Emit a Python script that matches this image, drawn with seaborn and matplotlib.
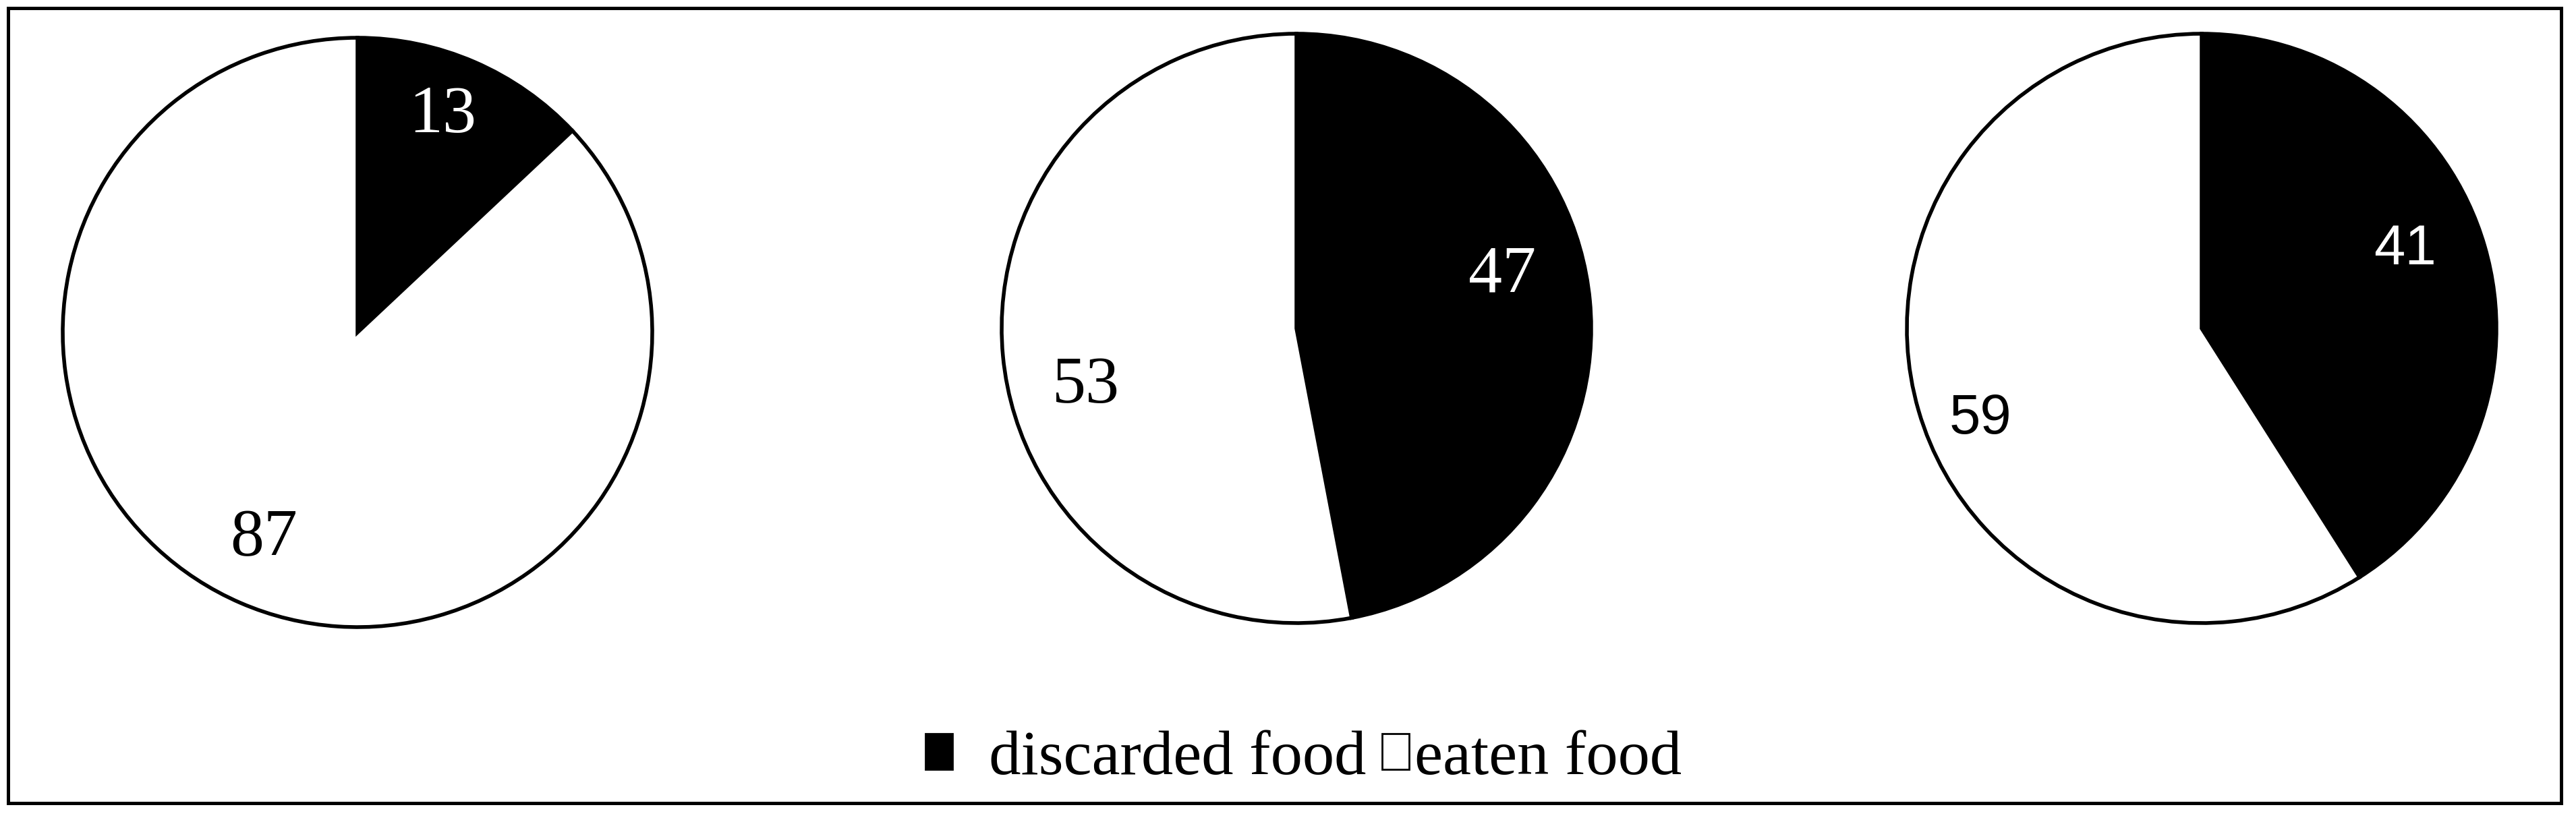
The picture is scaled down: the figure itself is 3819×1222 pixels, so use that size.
import numpy as np
import matplotlib
matplotlib.use("Agg")
import matplotlib.pyplot as plt
import seaborn as sns
from matplotlib.patches import Patch, Rectangle

# ---- data ----
categories = ["discarded food", "eaten food"]
discarded = [13, 47, 41]
eaten = [87, 53, 59]

sns.set_theme(style="white")
plt.rcParams['font.family'] = ['Liberation Serif', 'DejaVu Sans']
plt.rcParams['text.color'] = 'black'

W, H = 3819, 1222
fig = plt.figure(figsize=(W / 100, H / 100), dpi=100)
fig.patch.set_facecolor("white")

# layout (pixels): centres, radius
centers = [(530, 493), (1922, 487), (3264, 487)]
radius_px = 437
pad = 1.05
label_fonts = ['Liberation Serif', 'Liberation Serif', 'Liberation Sans']
label_sizes = [72, 72, 60]
angle_offsets = [[-2, 1], [-9, -10], [-5, -6]]   # degrees, clockwise positive
label_radii = [[0.79, 0.77], [0.72, 0.74], [0.74, 0.81]]
colors = ["black", "white"]
text_colors = ["white", "black"]

for i, (cx, cy) in enumerate(centers):
    side = 2 * pad * radius_px
    ax = fig.add_axes([(cx - side / 2) / W, (H - cy - side / 2) / H, side / W, side / H])
    vals = [discarded[i], eaten[i]]
    wedges, _ = ax.pie(vals, colors=colors, startangle=90, counterclock=False,
                       wedgeprops=dict(edgecolor="black", linewidth=4.0))
    ax.set_xlim(-pad, pad)
    ax.set_ylim(-pad, pad)
    ax.set_aspect("equal")
    ax.axis("off")
    for j, w in enumerate(wedges):
        mid = 0.5 * (w.theta1 + w.theta2) - angle_offsets[i][j]
        r = label_radii[i][j]
        x = r * np.cos(np.deg2rad(mid))
        y = r * np.sin(np.deg2rad(mid))
        ax.text(x, y, f"{vals[j]}", ha="center", va="center",
                color=text_colors[j], fontsize=label_sizes[i],
                family=[label_fonts[i], 'DejaVu Sans'])

handles = [Patch(facecolor=c, edgecolor="black", linewidth=2) for c in colors]
labels = ["  " + categories[0], categories[1]]
leg = fig.legend(handles, labels, ncol=2, loc="center", bbox_to_anchor=(0.506, 0.079),
                 frameon=False, handlelength=0.42, handleheight=0.5,
                 handletextpad=0.08, columnspacing=0.25,
                 prop=dict(family=['Liberation Serif', 'DejaVu Sans'], size=68))
for t in leg.get_texts():
    t.set_color("black")

x0, x1 = 12 / W, 3797 / W
y0, y1 = (H - 1191) / H, (H - 12) / H
fig.patches.append(Rectangle((x0, y0), x1 - x0, y1 - y0, transform=fig.transFigure,
                             fill=False, edgecolor="black", linewidth=3.6))

fig.savefig("out.png", dpi=100, facecolor="white")
